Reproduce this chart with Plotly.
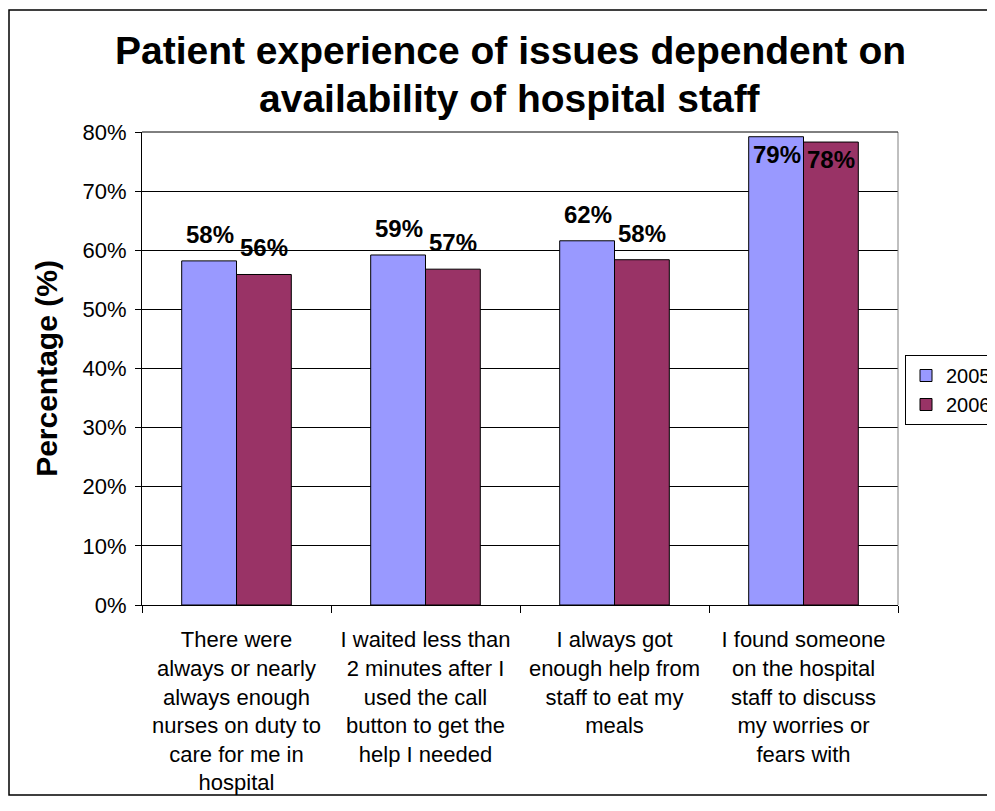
import plotly.graph_objects as go

categories = [
    "There were<br>always or nearly<br>always enough<br>nurses on duty to<br>care for me in<br>hospital",
    "I waited less than<br>2 minutes after I<br>used the call<br>button to get the<br>help I needed",
    "I always got<br>enough help from<br>staff to eat my<br>meals",
    "I found someone<br>on the hospital<br>staff to discuss<br>my worries or<br>fears with",
]
values_2005 = [58.2, 59.2, 61.6, 79.2]
values_2006 = [55.9, 56.8, 58.4, 78.3]
labels_2005 = ["58%", "59%", "62%", "79%"]
labels_2006 = ["56%", "57%", "58%", "78%"]
tick_vals = [0, 10, 20, 30, 40, 50, 60, 70, 80]
tick_text = ["0%", "10%", "20%", "30%", "40%", "50%", "60%", "70%", "80%"]

FONT = "Arial, Liberation Sans, sans-serif"
OFF = 8  # page body margin offset
W, H = 995 - OFF, 811 - OFF
# desired page-pixel positions of plot area
PL, PR, PT, PB = 142, 898, 132, 605
ML, MT = PL - OFF, PT - OFF
MR = W - (PR - OFF)
MB = H - (PB - OFF)
PW = W - ML - MR
PH = H - MT - MB

fig = go.Figure()
fig.add_trace(go.Bar(name="2005", x=categories, y=values_2005,
                     marker=dict(color="#9999FF", line=dict(color="black", width=1))))
fig.add_trace(go.Bar(name="2006", x=categories, y=values_2006,
                     marker=dict(color="#993366", line=dict(color="black", width=1))))

ann = []
half = 27
for vals, labs, sgn in [(values_2005, labels_2005, -1), (values_2006, labels_2006, 1)]:
    for c, v, lab in zip(categories, vals, labs):
        inside = v > 75
        ann.append(dict(x=c, y=v, xref="x", yref="y", text=f"<b>{lab}</b>", showarrow=False,
                        xshift=sgn * half, yanchor="top" if inside else "bottom",
                        yshift=-2 if inside else 11,
                        font=dict(family=FONT, size=24, color="black")))

def px_x(px):
    return (px - OFF - ML) / PW

def px_y(py):
    return (H - MB - (py - OFF)) / PH

ann.append(dict(x=px_x(510), y=px_y(50), xref="paper", yref="paper", showarrow=False,
                text="<b>Patient experience of issues dependent on</b>", yanchor="middle",
                font=dict(family=FONT, size=39, color="black")))
ann.append(dict(x=px_x(510), y=px_y(98), xref="paper", yref="paper", showarrow=False,
                text="<b>availability of hospital staff</b>", yanchor="middle",
                font=dict(family=FONT, size=39, color="black")))

shapes = [
    dict(type="rect", xref="paper", yref="paper", x0=px_x(9), x1=px_x(1030), y0=px_y(795), y1=px_y(10),
         line=dict(color="black", width=1.5), layer="below"),
    dict(type="line", xref="paper", yref="paper", x0=1, x1=1, y0=0, y1=1,
         line=dict(color="#808080", width=1)),
    dict(type="line", xref="paper", yref="paper", x0=0, x1=1, y0=1, y1=1,
         line=dict(color="black", width=1)),
]

fig.update_layout(
    width=W, height=H,
    margin=dict(l=ML, r=MR, t=MT, b=MB, pad=0, autoexpand=False),
    paper_bgcolor="white", plot_bgcolor="white",
    barmode="group", bargap=0.42, bargroupgap=0,
    font=dict(family=FONT, size=22, color="black"),
    annotations=ann, shapes=shapes,
    showlegend=True,
    legend=dict(x=px_x(905), y=px_y(355), xanchor="left", yanchor="top",
                bordercolor="black", borderwidth=1, bgcolor="white",
                font=dict(family=FONT, size=20, color="black"),
                itemwidth=30, tracegroupgap=0),
    xaxis=dict(showline=True, linecolor="black", linewidth=1, ticks="outside",
               tickson="boundaries", ticklen=7, tickcolor="black",
               tickfont=dict(family=FONT, size=22, color="black"), ticklabelstandoff=15,
               showgrid=False),
    yaxis=dict(range=[0, 80], tickvals=tick_vals, ticktext=tick_text,
               showline=True, linecolor="black", linewidth=1, ticks="outside",
               ticklen=6, tickcolor="black", showgrid=True, gridcolor="black", gridwidth=1,
               zeroline=False, tickfont=dict(family=FONT, size=22, color="black"),
               ticklabelstandoff=4,
               title=dict(text="<b>Percentage (%)</b>", font=dict(family=FONT, size=30, color="black"),
                          standoff=16)),
)

fig.write_html("out.html")
